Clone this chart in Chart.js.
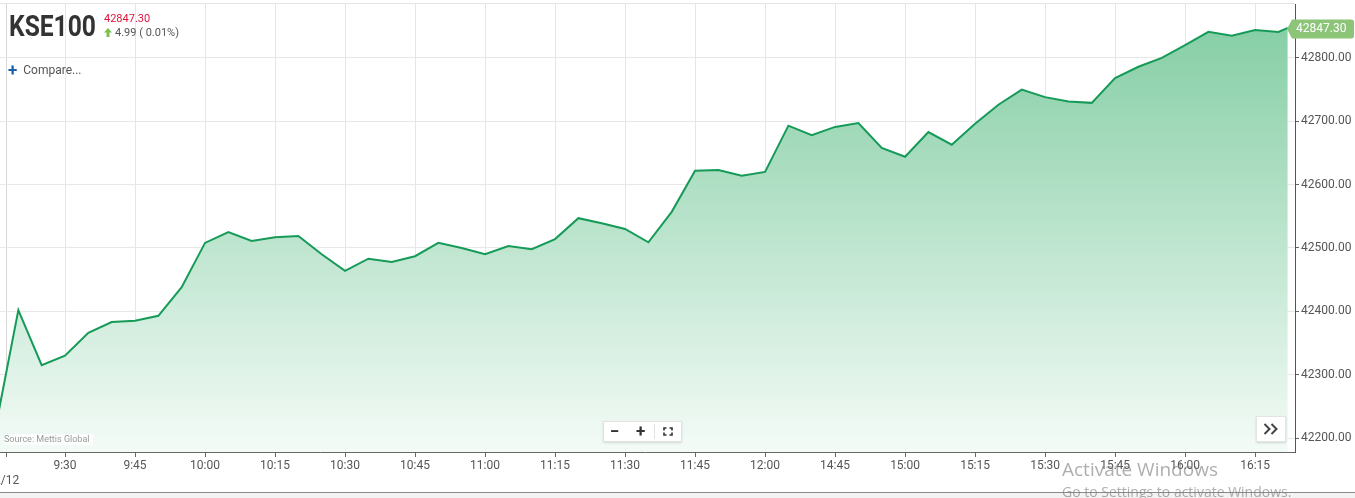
<!DOCTYPE html>
<html>
<head>
<meta charset="utf-8">
<script src="https://cdn.jsdelivr.net/npm/chart.js@4.4.1/dist/chart.umd.min.js"></script>
<style>
  html, body { margin: 0; padding: 0; background: #fff; overflow: hidden; width: 1355px; height: 498px; font-family: Roboto, Arial, sans-serif; }
  #wrap { position: absolute; left: -40px; top: 0; width: 1395px; height: 492px; }
  #topline { position: absolute; left: 0; top: 3px; width: 1295px; height: 1px; background: #e4e4e4; }
  #foot { position: absolute; left: 0; top: 492px; width: 1355px; height: 6px; background: #f3f3f3; border-top: 1px solid #8a8a8a; }
  #title { position: absolute; left: 9px; top: 11px; font-size: 30px; font-weight: bold; line-height: 30px; color: #333; transform: scaleX(0.82); transform-origin: left top; white-space: nowrap; }
  #last { position: absolute; left: 104px; top: 13px; font-size: 11px; line-height: 11px; color: #e0123c; }
  #chg { position: absolute; left: 104px; top: 27px; font-size: 11px; line-height: 11px; color: #555; white-space: nowrap; }
  #chg svg { vertical-align: -1px; margin-right: 3px; }
  #compare { position: absolute; left: 8px; top: 63px; font-size: 12px; line-height: 14px; color: #555; white-space: nowrap; }
  #compare b { color: #1f5ea8; font-size: 17px; margin-right: 6px; vertical-align: -2px; }
  #source { position: absolute; left: 4px; top: 434px; font-size: 9px; line-height: 11px; color: #9a9a9a; background: rgba(255,255,255,0.75); padding-right: 4px; }
  #zoomctl { position: absolute; left: 603px; top: 421px; width: 77px; height: 19px; background: #fff; border: 1px solid #e2e2e2; box-shadow: 0 1px 2px rgba(0,0,0,0.12); }
  #zoomctl span { position: absolute; top: 0; font-size: 17px; font-weight: bold; line-height: 19px; color: #333; }
  #zoomctl i { position: absolute; left: 50px; top: 2px; width: 1px; height: 15px; background: #e2e2e2; }
  #more { position: absolute; left: 1256px; top: 416px; width: 28px; height: 24px; background: #fff; border: 1px solid #e4e4e4; box-shadow: 0 1px 2px rgba(0,0,0,0.15); }
  #wm1 { position: absolute; left: 1062px; top: 456px; font-family: "Open Sans", sans-serif; font-size: 19px; line-height: 26px; color: rgba(120,120,120,0.6); white-space: nowrap; }
  #wm2 { position: absolute; left: 1062px; top: 482px; font-family: "Open Sans", sans-serif; font-size: 14px; line-height: 19px; color: rgba(120,120,120,0.6); white-space: nowrap; }
</style>
</head>
<body>
<div id="topline"></div>
<div id="wrap"><canvas id="kseChart"></canvas></div>
<div id="foot"></div>

<div id="title">KSE100</div>
<div id="last">42847.30</div>
<div id="chg"><svg width="8" height="9" viewBox="0 0 8 9"><path d="M4 0 L8 4.5 L5.5 4.5 L5.5 9 L2.5 9 L2.5 4.5 L0 4.5 Z" fill="#7dc14a"/></svg>4.99 ( 0.01%)</div>
<div id="compare"><b>+</b>Compare...</div>
<div id="source">Source: Mettis Global</div>
<div id="zoomctl">
  <span style="left:6px">&minus;</span>
  <span style="left:32px">+</span>
  <i></i>
  <svg style="position:absolute;left:59px;top:5px" width="10" height="9" viewBox="0 0 10 9">
    <path d="M1 3.5 V1 H3.5 M6.5 1 H9 V3.5 M9 5.5 V8 H6.5 M3.5 8 H1 V5.5" fill="none" stroke="#333" stroke-width="1.6"/>
  </svg>
</div>
<div id="more">
  <svg style="position:absolute;left:6px;top:6px" width="16" height="12" viewBox="0 0 16 12">
    <path d="M1.5 1 L6.5 6 L1.5 11 M8.5 1 L13.5 6 L8.5 11" fill="none" stroke="#444" stroke-width="2"/>
  </svg>
</div>
<div id="wm1">Activate Windows</div>
<div id="wm2">Go to Settings to activate Windows.</div>

<script>
// 5-minute prices for the session (market breaks after 12:05, resumes 14:40)
const times = [
  '9:15', '9:20', '9:25', '9:30', '9:35', '9:40', '9:45', '9:50', '9:55',
  '10:00', '10:05', '10:10', '10:15', '10:20', '10:25', '10:30', '10:35', '10:40', '10:45', '10:50', '10:55',
  '11:00', '11:05', '11:10', '11:15', '11:20', '11:25', '11:30', '11:35', '11:40', '11:45', '11:50', '11:55',
  '12:00', '12:05',
  '14:40', '14:45', '14:50', '14:55',
  '15:00', '15:05', '15:10', '15:15', '15:20', '15:25', '15:30', '15:35', '15:40', '15:45', '15:50', '15:55',
  '16:00', '16:05', '16:10', '16:15', '16:20', '16:22'
];
const values = [
  42212, 42402, 42315, 42330, 42366, 42383, 42385, 42393, 42438,
  42508, 42525, 42511, 42517, 42519, 42490, 42464, 42483, 42478, 42487, 42508, 42500,
  42490, 42503, 42498, 42514, 42547, 42539, 42530, 42509, 42557, 42622, 42623, 42614,
  42620, 42693,
  42678, 42691, 42697, 42658,
  42644, 42683, 42663, 42696, 42726, 42750, 42738, 42731, 42729, 42768, 42786, 42800,
  42820, 42841, 42835, 42844, 42841, 42847.30
];

const xTickTimes = ['9:17:30', '9:30', '9:45', '10:00', '10:15', '10:30', '10:45', '11:00', '11:15', '11:30', '11:45',
  '12:00', '14:45', '15:00', '15:15', '15:30', '15:45', '16:00', '16:15'];
const xTickLabels = [['', '2/12'], '9:30', '9:45', '10:00', '10:15', '10:30', '10:45', '11:00', '11:15', '11:30', '11:45',
  '12:00', '14:45', '15:00', '15:15', '15:30', '15:45', '16:00', '16:15'];
const yTicks = [42200, 42300, 42400, 42500, 42600, 42700, 42800];
const lastLabel = '42847.30';

function toMin(t) {
  const p = t.split(':').map(Number);
  return p[0] * 60 + p[1] + (p[2] || 0) / 60;
}
const OPEN = toMin('9:15'), BREAK_AT = toMin('12:05'), RESUME = toMin('14:40');
// position on the axis in 5-minute slots, with the midday break collapsed
function slot(t) {
  const m = toMin(t);
  return m <= BREAK_AT ? (m - OPEN) / 5 : (BREAK_AT - OPEN) / 5 + 1 + (m - RESUME) / 5;
}

const points = times.map((t, i) => ({ x: slot(t), y: values[i] }));

const priceTag = {
  id: 'priceTag',
  afterDraw(chart) {
    const { ctx, chartArea, scales } = chart;
    const py = scales.y.getPixelForValue(values[values.length - 1]);
    const tip = chartArea.right - 8;
    const left = tip + 5, right = left + 62, h = 19, top = py - h / 2 + 1;
    ctx.save();
    ctx.fillStyle = '#8cc578';
    ctx.beginPath();
    ctx.moveTo(tip, py + 1);
    ctx.lineTo(left, top);
    ctx.lineTo(right - 3, top);
    ctx.quadraticCurveTo(right, top, right, top + 3);
    ctx.lineTo(right, top + h - 3);
    ctx.quadraticCurveTo(right, top + h, right - 3, top + h);
    ctx.lineTo(left, top + h);
    ctx.closePath();
    ctx.fill();
    ctx.fillStyle = '#fff';
    ctx.font = '12px Roboto';
    ctx.textBaseline = 'middle';
    ctx.fillText(lastLabel, left + 4, py + 1);
    ctx.restore();
  }
};

function noPad(s) {
  s.paddingTop = 0; s.paddingBottom = 0; s.paddingLeft = 0; s.paddingRight = 0;
}

const ctx = document.getElementById('kseChart').getContext('2d');
new Chart(ctx, {
  type: 'line',
  data: {
    datasets: [{
      data: points,
      borderColor: '#159a58',
      borderWidth: 2,
      pointRadius: 0,
      tension: 0,
      fill: 'start',
      backgroundColor: (c) => {
        const a = c.chart.chartArea;
        if (!a) return 'rgba(0,0,0,0)';
        const g = c.chart.ctx.createLinearGradient(0, a.top, 0, a.bottom);
        g.addColorStop(0, '#80cca1');
        g.addColorStop(1, '#f4fbf7');
        return g;
      }
    }]
  },
  options: {
    responsive: true,
    maintainAspectRatio: false,
    animation: false,
    layout: { padding: { left: 35, top: 4, right: 0, bottom: 0 } },
    plugins: { legend: { display: false }, tooltip: { enabled: false } },
    scales: {
      x: {
        type: 'linear',
        min: 0,
        max: 55.71,
        afterBuildTicks: (s) => { s.ticks = xTickTimes.map(t => ({ value: slot(t) })); },
        afterFit: (s) => { s.height = 40; noPad(s); },
        ticks: {
          autoSkip: false,
          maxRotation: 0,
          padding: 2,
          color: '#555',
          font: { family: 'Roboto', size: 12 },
          callback: (v, i) => xTickLabels[i]
        },
        grid: {
          color: (c) => c.index === 0 ? '#d6d6d6' : '#e6e6e6',
          tickColor: '#666',
          tickLength: 5
        },
        border: { color: '#666', width: 1 }
      },
      y: {
        position: 'right',
        min: 42178,
        max: 42885,
        afterBuildTicks: (s) => { s.ticks = yTicks.map(v => ({ value: v })); },
        afterFit: (s) => { s.width = 60; noPad(s); },
        ticks: {
          padding: 2,
          color: '#555',
          font: { family: 'Roboto', size: 12 },
          callback: (v) => v.toFixed(2)
        },
        grid: { color: '#e8e8e8', tickColor: '#666', tickLength: 4 },
        border: { color: '#555', width: 1 }
      }
    }
  },
  plugins: [priceTag]
});
</script>
</body>
</html>
